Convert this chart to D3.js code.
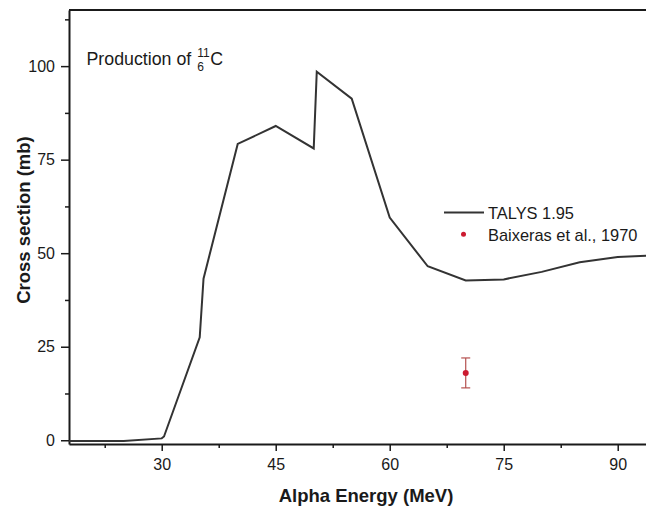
<!DOCTYPE html>
<html>
<head>
<meta charset="utf-8">
<script src="https://cdn.jsdelivr.net/npm/d3@7"></script>
<style>
  html, body { margin: 0; padding: 0; background: #fff; }
  svg { display: block; }
  text { font-family: "Liberation Sans", Arial, Helvetica, sans-serif; fill: #1a1a1a; }
</style>
</head>
<body>
<svg id="chart" width="646" height="511"></svg>
<script>
// ---- data ----
const talysEnergy = [17.8, 25, 30, 30.3, 35, 35.5, 40, 45, 50, 50.4, 55, 60, 65, 70, 75, 80, 85, 90, 95];
const talysXs     = [-0.2, -0.2, 0.5, 1.0, 27.5, 43.2, 79.2, 84.0, 78.0, 98.5, 91.3, 59.5, 46.5, 42.7, 43.0, 45.0, 47.6, 49.0, 49.4];
const expEnergy = [70];
const expXs     = [18.0];
const expErr    = [4.0];
const xTicks = [30, 45, 60, 75, 90];
const xMinorTicks = [22.5, 37.5, 52.5, 67.5, 82.5];
const yTicks = [0, 25, 50, 75, 100];
const yMinorTicks = [12.5, 37.5, 62.5, 87.5, 112.5];
const legendLabels = ["TALYS 1.95", "Baixeras et al., 1970"];

// ---- layout ----
const svg = d3.select("#chart");
const mLeft = 69, mTop = 10, mBottom = 444;
const x = d3.scaleLinear().domain([17.8, 95]).range([mLeft, mLeft + (95 - 17.8) * 7.6]);
const y = d3.scaleLinear().domain([-1, 115]).range([mBottom, mTop]);

const axisColor = "#1a1a1a";

// frame top line
svg.append("line").attr("x1", mLeft).attr("x2", x(95)).attr("y1", mTop).attr("y2", mTop)
  .attr("stroke", axisColor).attr("stroke-width", 2);

// x axis
const gx = svg.append("g").attr("transform", `translate(0,${mBottom})`);
gx.call(d3.axisBottom(x).tickValues(xTicks).tickSize(7).tickPadding(8).tickSizeOuter(0));
const gxm = svg.append("g").attr("transform", `translate(0,${mBottom})`);
gxm.call(d3.axisBottom(x).tickValues(xMinorTicks).tickSize(4).tickFormat("").tickSizeOuter(0));
gxm.select(".domain").remove();

// y axis
const gy = svg.append("g").attr("transform", `translate(${mLeft},0)`);
gy.call(d3.axisLeft(y).tickValues(yTicks).tickSize(8).tickPadding(6).tickSizeOuter(0));
const gym = svg.append("g").attr("transform", `translate(${mLeft},0)`);
gym.call(d3.axisLeft(y).tickValues(yMinorTicks).tickSize(4).tickFormat("").tickSizeOuter(0));
gym.select(".domain").remove();

svg.selectAll(".domain").attr("stroke", axisColor).attr("stroke-width", 2);
svg.selectAll(".tick line").attr("stroke", axisColor).attr("stroke-width", 1.5);
svg.selectAll(".tick text").attr("font-family", "'Liberation Sans', Arial, sans-serif")
  .attr("font-size", 16).attr("fill", "#222");

// axis titles
svg.append("text").attr("x", 366).attr("y", 502).attr("text-anchor", "middle")
  .attr("font-size", 18.5).attr("font-weight", "bold").text("Alpha Energy (MeV)");
svg.append("text").attr("transform", "translate(30,220) rotate(-90)").attr("text-anchor", "middle")
  .attr("font-size", 18.5).attr("font-weight", "bold").text("Cross section (mb)");

// TALYS line
const line = d3.line().x((d, i) => x(talysEnergy[i])).y(d => y(d));
svg.append("path").datum(talysXs).attr("d", line).attr("fill", "none")
  .attr("stroke", "#333").attr("stroke-width", 2).attr("stroke-linejoin", "miter");

// experimental point with error bar
const exp = svg.append("g");
expEnergy.forEach((e, i) => {
  const cx = x(e), cy = y(expXs[i]);
  const y1 = y(expXs[i] + expErr[i]), y2 = y(expXs[i] - expErr[i]);
  const c = "#b5514f";
  exp.append("line").attr("x1", cx).attr("x2", cx).attr("y1", y1).attr("y2", y2).attr("stroke", c).attr("stroke-width", 1.2);
  exp.append("line").attr("x1", cx - 4.5).attr("x2", cx + 4.5).attr("y1", y1).attr("y2", y1).attr("stroke", c).attr("stroke-width", 1.2);
  exp.append("line").attr("x1", cx - 4.5).attr("x2", cx + 4.5).attr("y1", y2).attr("y2", y2).attr("stroke", c).attr("stroke-width", 1.2);
  exp.append("circle").attr("cx", cx).attr("cy", cy).attr("r", 3).attr("fill", "#cc1a30");
});

// legend
const lg = svg.append("g");
lg.append("line").attr("x1", 444).attr("x2", 484).attr("y1", 212.5).attr("y2", 212.5)
  .attr("stroke", "#333").attr("stroke-width", 2);
lg.append("text").attr("x", 488).attr("y", 218.5).attr("font-size", 16.4).text(legendLabels[0]);
lg.append("circle").attr("cx", 463.5).attr("cy", 234.3).attr("r", 2.5).attr("fill", "#cc1a30");
lg.append("text").attr("x", 488).attr("y", 240.5).attr("font-size", 16.4).text(legendLabels[1]);

// title with nuclide notation
const tx = 86.5, tb = 65;
const t1 = svg.append("text").attr("x", tx).attr("y", tb).attr("font-size", 17.8).text("Production of");
const w1 = t1.node().getComputedTextLength();
const sx = tx + w1 + 6;
const sup = svg.append("text").attr("x", sx).attr("y", 56.5).attr("font-size", 12).text("11");
svg.append("text").attr("x", sx).attr("y", 71).attr("font-size", 12).text("6");
const ws = sup.node().getComputedTextLength();
svg.append("text").attr("x", sx + ws + 0.5).attr("y", tb).attr("font-size", 17.8).text("C");
</script>
</body>
</html>
